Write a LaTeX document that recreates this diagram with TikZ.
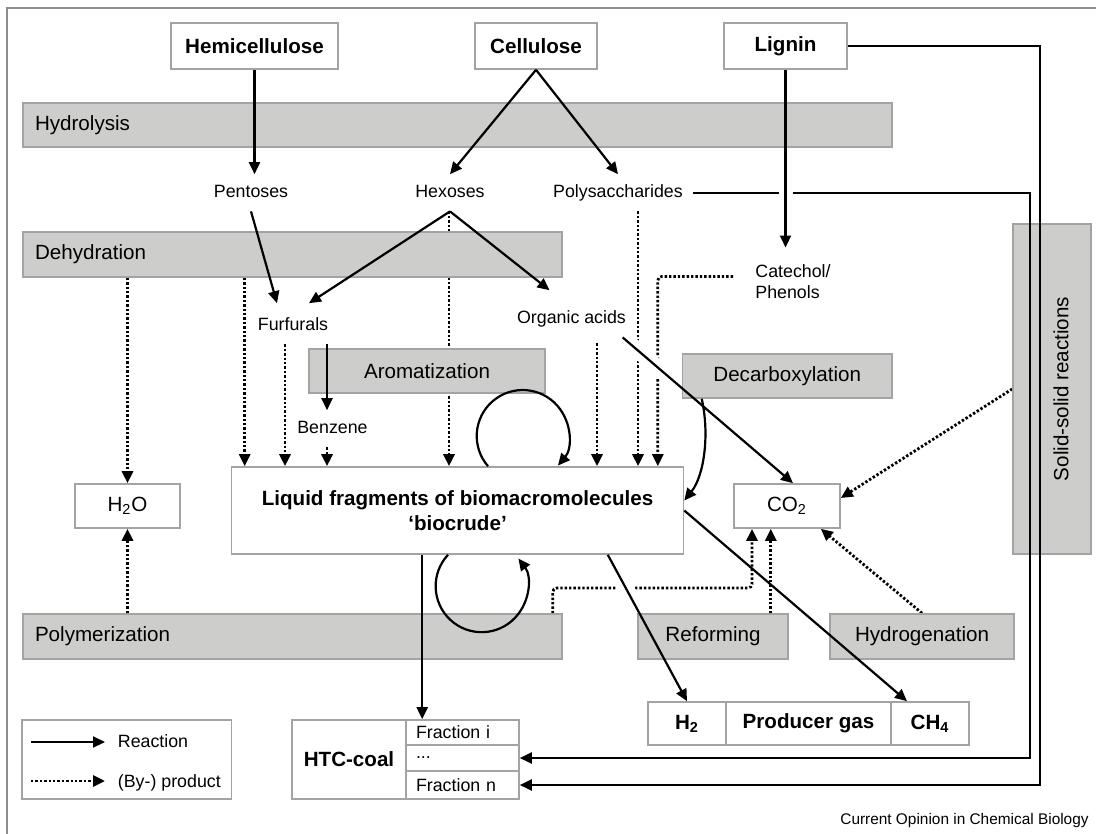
\documentclass[tikz,border=0pt]{standalone}
\usepackage{fontspec}
\setmainfont{Liberation Sans}
\usetikzlibrary{arrows.meta}
\definecolor{bandgray}{HTML}{CDCECB}
\definecolor{edgegray}{HTML}{A3A3A3}
\definecolor{framegray}{HTML}{8C8C8C}
\pgfdeclarelayer{under}
\pgfsetlayers{under,main}
\newcommand\fbig{\fontsize{10.3}{12.5}\selectfont}
\newcommand\fsml{\fontsize{8.9}{10.5}\selectfont}
\newcommand\ffoot{\fontsize{7.7}{9}\selectfont}

\begin{document}
\begin{tikzpicture}[x=0.5pt, y=-0.5pt,
    box/.style={draw=edgegray, fill=white, line width=0.8pt, inner sep=0pt, font=\fbig},
    band/.style={draw=edgegray, fill=bandgray, line width=0.8pt, inner xsep=6pt, inner ysep=0pt, font=\fbig},
    lbl/.style={inner sep=5pt, font=\fsml, text height=6.4pt, text depth=1.8pt},
    frac/.style={box, font=\fsml, text width=46.5pt, inner xsep=5pt, align=left},
    rx/.style={line width=1.1pt, -{Triangle[length=6pt,width=5.5pt]}},
    px/.style={line width=1.4pt, dash pattern=on 1.2pt off 1pt, -{Triangle[length=6pt,width=5.5pt]}},
    halo/.style={draw=white, line width=8pt}]
                \useasboundingbox (0,0) rectangle (1096,834);
                \draw[framegray, line width=0.8pt] (1096,8) -- (7,8) -- (7,834);

                \node[box, minimum width=83.5pt, minimum height=23pt, font=\fbig\bfseries] (hemi) at (254.5,46) {Hemicellulose};
                \node[box, minimum width=61pt, minimum height=23pt, font=\fbig\bfseries] (cell) at (536,46) {Cellulose};
                \node[box, minimum width=61.5pt, minimum height=23pt, font=\fbig\bfseries] (lig) at (785.5,46) {Lignin};

                \node[band, text width=422.5pt, align=left, minimum height=22pt] (hydl) at (457.5,125) {Hydrolysis};
                \node[band, text width=257.5pt, align=left, minimum height=22.5pt] (dehy) at (292.5,254.5) {Dehydration};
                \node[band, minimum width=118pt, minimum height=22pt] (arom) at (427,371) {Aromatization};
                \node[band, minimum width=104.75pt, minimum height=22pt] (decarb) at (787.25,376) {Decarboxylation};
                \node[band, rotate=90, minimum width=165pt, minimum height=39pt, text height=16.5pt] (sbar) at (1052,389) {Solid-solid reactions};
                \node[band, text width=257.5pt, align=left, minimum height=22.5pt] (polym) at (292.5,636.5) {Polymerization};
                \node[band, minimum width=75pt, minimum height=22.5pt] (refo) at (713,636.5) {Reforming};
                \node[band, minimum width=92pt, minimum height=22.5pt] (hydro) at (922,636.5) {Hydrogenation};

                \node[lbl] (pent) at (251,192.8) {Pentoses};
                \node[lbl] (hex) at (450,192.8) {Hexoses};
                \node[lbl] (poly) at (618,192.8) {Polysaccharides};
                \node[lbl] (furf) at (293,325.8) {Furfurals};
                \node[lbl] (orga) at (571.5,318.8) {Organic acids};
                \node[lbl] (benz) at (332.5,428.8) {Benzene};
                \node[font=\fsml, align=left, inner sep=0pt, anchor=north west] (cat) at (755,264.5) {Catechol/\\Phenols};

                \node[box, minimum width=52.5pt, minimum height=22pt] (h2o) at (127.5,506) {H\textsubscript{2}O};
                \node[box, minimum width=226pt, minimum height=43.5pt, align=center, font=\fbig\bfseries] (crude) at (457.5,510.5) {Liquid fragments of biomacromolecules\\‘biocrude’};
                \node[box, minimum width=53pt, minimum height=22pt] (co2) at (787,506) {CO\textsubscript{2}};

                \node[box, minimum width=57pt, minimum height=39.5pt, font=\fbig\bfseries] (htc) at (349,759.5) {HTC-coal};
                \node[frac, minimum height=12.5pt] (fri) at (462.5,732.5) {Fraction i};
                \node[frac, minimum height=13pt] (fdots) at (462.5,758) {...};
                \node[frac, minimum height=14pt] (frn) at (462.5,785) {Fraction n};

                \node[box, minimum width=39pt, minimum height=21.5pt, font=\fbig\bfseries] (h2) at (687,723.5) {H\textsubscript{2}};
                \node[box, minimum width=82.5pt, minimum height=21.5pt, font=\fbig\bfseries] (pgas) at (808.5,723.5) {Producer gas};
                \node[box, minimum width=39pt, minimum height=21.5pt, font=\fbig\bfseries] (ch4) at (930,723.5) {CH\textsubscript{4}};

                \node[box, minimum width=104.75pt, minimum height=39.5pt] (legend) at (126.75,759.5) {};
                \node[lbl, inner sep=0pt, anchor=west] (lreac) at (117.5,742.8) {Reaction};
                \node[lbl, inner sep=0pt, anchor=west] (lprod) at (117.5,782.8) {(By-) product};
                \coordinate (ra) at (31,742);
                \coordinate (rb) at (105,742);
                \coordinate (pa) at (31,781);
                \coordinate (pb) at (105,781);

                \node[font=\ffoot, inner sep=0pt, anchor=base east] (src) at (1089,824.5) {Current Opinion in Chemical Biology};

                \coordinate (pgapa) at ([xshift=-3.5pt]lig.south |- poly.east);
                \coordinate (pgapb) at ([xshift=3.5pt]lig.south |- poly.east);
                \coordinate (pbend) at (1030,758);
                \coordinate (lbend) at (1040,785);
                \coordinate (pjoin) at (700,588);

                \begin{pgfonlayer}{under}
                \path[px]
                    (h2o.north |- dehy.south) edge (h2o.north)
                    (h2o.south |- polym.north) edge (h2o.south)
                    ([xshift=7pt]crude.north west |- dehy.south) edge ([xshift=7pt]crude.north west)
                    ([xshift=-4pt]furf.south) edge ([xshift=-4pt]furf.south |- crude.north)
                    ([xshift=-2.75pt]benz.south) edge ([xshift=-2.75pt]benz.south |- crude.north)
                    ([xshift=-0.5pt]hex.south) edge ([xshift=-0.5pt]hex.south |- crude.north)
                    ([xshift=12.75pt,yshift=-3pt]orga.south) edge ([xshift=12.75pt]orga.south |- crude.north)
                    ([xshift=10pt]poly.south) edge ([xshift=10pt]poly.south |- crude.north)
                    (sbar.north) edge ([yshift=4pt]co2.east)
                    (hydro.north) edge ([xshift=-10pt]co2.south east)
                    ([xshift=-9pt]refo.north east) edge ([xshift=-9pt]refo.north east |- co2.south)
                    ;
                \draw[px, rounded corners=2pt] ([xshift=-11pt,yshift=2.75pt]cat.west) -| ([xshift=-13.25pt]crude.north east);
                \draw[px, rounded corners=2pt] ([xshift=-5pt]polym.north east) |- (pjoin) -| ([xshift=-17.5pt]co2.south);
                \draw[halo] (orga.-20) -- ([xshift=3pt]co2.north);
                \draw[halo] ([xshift=-38.25pt]crude.south east) -- (h2.north);
                \end{pgfonlayer}

                \draw[line width=1.1pt] (poly.east) -- (pgapa);
                \draw[rx] (pgapb) -| (pbend) -- (fdots.east);
                \draw[rx] (lig.east) -| (lbend) -- (frn.east);

                \path[rx]
                    (hemi.south) edge (hemi.south |- pent.north)
                    (cell.south) edge (hex.north)
                    (cell.south) edge (poly.north)
                    (lig.south) edge ([yshift=8.5pt]lig.south |- cat.north)
                    (pent.south) edge ([xshift=-8pt,yshift=2pt]furf.north)
                    (hex.south) edge ([xshift=8pt,yshift=2pt]furf.north)
                    (hex.south) edge ([xshift=-11pt,yshift=5pt]orga.north)
                    ([xshift=17pt]furf.south) edge ([xshift=-2.75pt]benz.north)
                    (orga.-20) edge ([xshift=3pt]co2.north)
                    ([xshift=-38.25pt]crude.south east) edge (h2.north)
                    (crude.east) edge ([xshift=-11.5pt]ch4.north)
                    ([xshift=8.5pt]fri.north west |- crude.south) edge ([xshift=8.5pt]fri.north west)
                    (ra) edge (rb)
                    ;
                \draw[px] (pa) -- (pb);
                \draw[rx] ([xshift=10pt]decarb.south west) .. controls +(8,35) and +(20,-25) .. ([yshift=5pt]crude.east);
                \draw[rx] ([xshift=15.25pt]crude.north) arc[start angle=139, end angle=400, radius=46];
                \draw[rx] ([xshift=-4.75pt]crude.south) arc[start angle=223, end angle=-37, radius=46];
            \end{tikzpicture}
\end{document}
